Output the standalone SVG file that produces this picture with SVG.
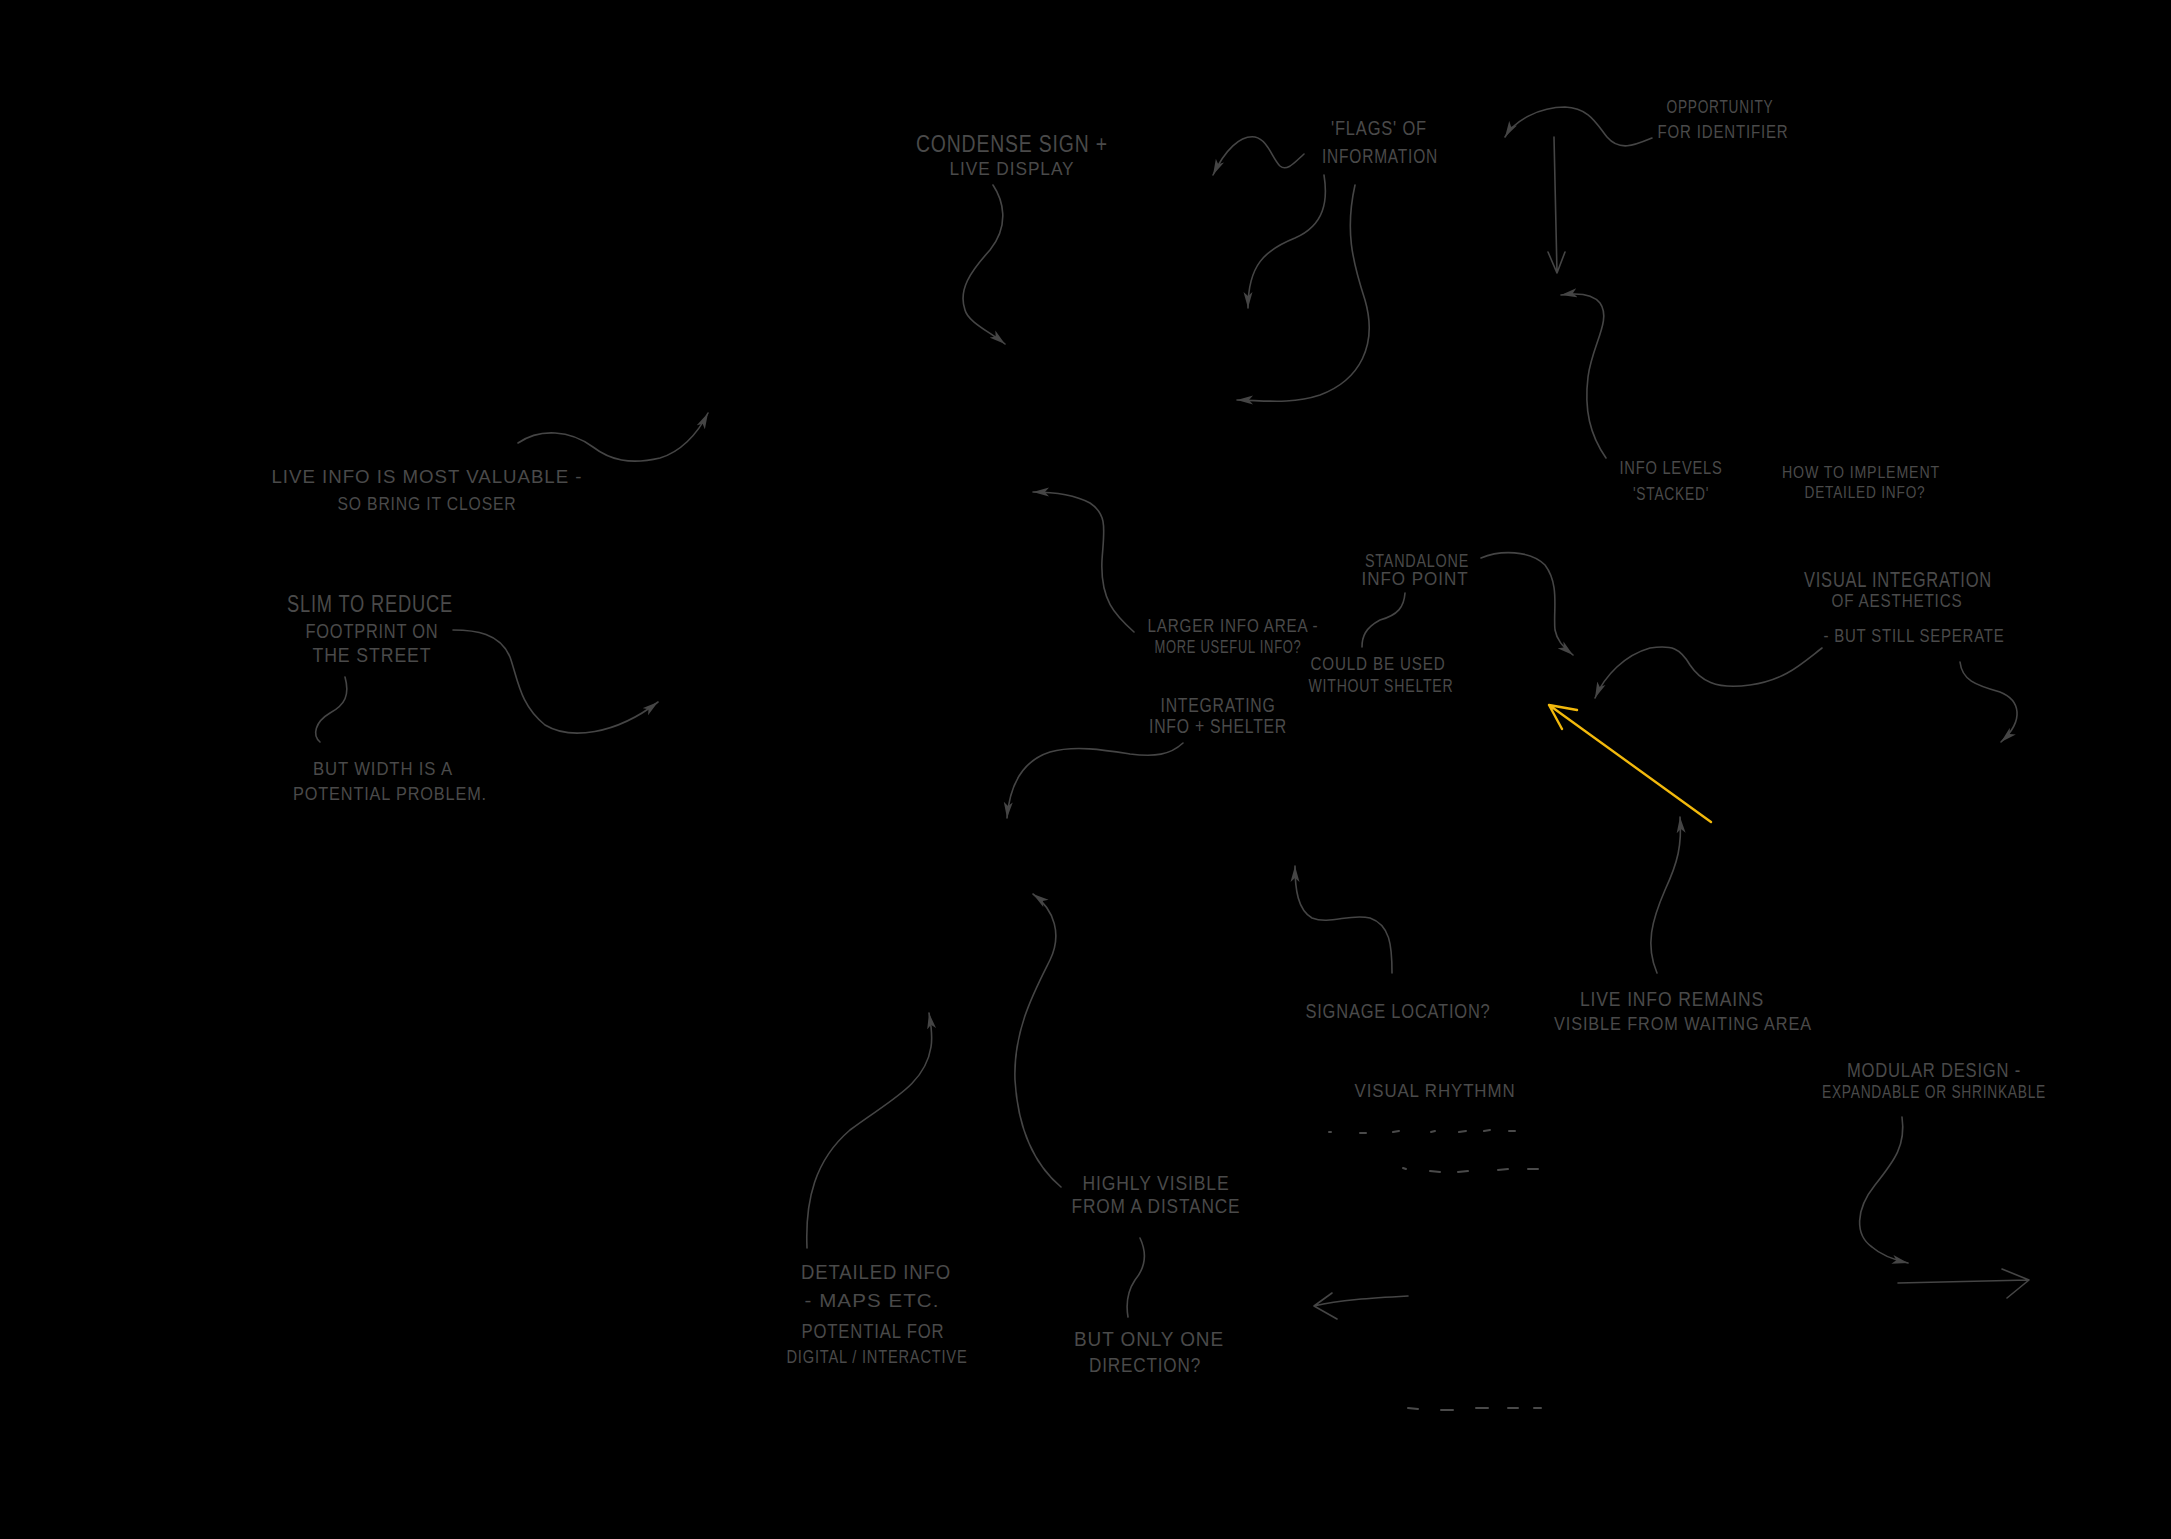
<svg xmlns="http://www.w3.org/2000/svg" width="2171" height="1539" viewBox="0 0 2171 1539">
<style>
.t{font-family:"Liberation Sans","DejaVu Sans",sans-serif;fill:#4a4a4a;text-anchor:middle;letter-spacing:1px}
.c{fill:none;stroke:#454545;stroke-width:1.6;stroke-linecap:round;stroke-linejoin:round}
.ca{fill:none;stroke:#454545;stroke-width:1.6;stroke-linecap:round;marker-end:url(#ah)}
.d{stroke:#4a4a4a;stroke-width:2;stroke-linecap:round}
.y{fill:none;stroke:#f2b90c;stroke-width:2.4;stroke-linecap:round;stroke-linejoin:round}
</style>
<defs>
<marker id="ah" markerUnits="userSpaceOnUse" markerWidth="18" markerHeight="10" refX="16" refY="5" orient="auto" viewBox="0 0 18 10">
<path d="M0,0.5 L16,5 L0,9.5 L4,5 z" fill="#454545"/>
</marker>
</defs>
<rect x="0" y="0" width="2171" height="1539" fill="#000"/>

<g id="connectors">
<path class="ca" d="M993,185 C1003,200 1010,225 990,250 C970,272 958,290 965,310 C968,322 990,332 1005,344"/>
<path class="ca" d="M1304,154 C1295,162 1287,172 1280,166 C1272,158 1268,140 1255,137 C1240,135 1225,150 1213,175"/>
<path class="ca" d="M1324,175 C1328,200 1325,225 1295,238 C1265,250 1248,265 1248,308"/>
<path class="ca" d="M1355,185 C1345,230 1352,260 1365,300 C1378,345 1360,380 1320,395 C1290,405 1260,400 1237,400"/>
<path class="ca" d="M1652,138 C1635,145 1620,152 1607,137 C1597,125 1590,108 1565,107 C1540,107 1515,120 1505,137"/>
<path class="c" d="M1554,137 L1557,273 M1548,252 L1557,273 L1565,252"/>
<path class="ca" d="M1606,458 C1590,435 1584,410 1588,377 C1592,345 1612,320 1600,303 C1592,293 1575,293 1561,295"/>
<path class="ca" d="M518,443 C540,428 570,430 593,447 C610,460 630,465 660,458 C680,452 697,435 708,413"/>
<path class="ca" d="M453,630 C475,630 500,633 510,657 C518,680 520,705 545,725 C570,740 615,735 658,702"/>
<path class="c" d="M345,677 C350,695 345,705 330,713 C315,722 312,735 320,742"/>
<path class="ca" d="M1134,632 C1115,615 1100,600 1102,560 C1104,530 1108,515 1090,503 C1075,495 1055,492 1033,492"/>
<path class="c" d="M1405,593 C1404,607 1398,615 1380,620 C1365,628 1362,637 1362,647"/>
<path class="ca" d="M1481,558 C1500,550 1530,550 1545,565 C1560,585 1553,610 1555,630 C1557,640 1562,646 1573,655"/>
<path class="ca" d="M1822,648 C1800,665 1785,680 1750,685 C1715,690 1700,680 1690,665 C1680,648 1672,645 1650,648 C1625,655 1605,675 1595,698"/>
<path class="ca" d="M1960,662 C1962,680 1975,685 2000,692 C2020,700 2025,720 2001,742"/>
<path class="ca" d="M1183,743 C1170,755 1155,757 1130,754 C1105,750 1075,745 1050,752 C1025,760 1010,780 1007,818"/>
<path class="y" d="M1711,822 L1549,705 M1577,710 L1549,705 L1562,729"/>
<path class="ca" d="M1392,973 C1392,945 1390,925 1370,918 C1350,913 1330,925 1312,918 C1298,910 1295,890 1295,866"/>
<path class="ca" d="M1657,973 C1645,945 1652,920 1665,890 C1678,862 1682,845 1680,817"/>
<path class="ca" d="M1061,1187 C1035,1165 1018,1130 1015,1080 C1013,1030 1035,990 1050,960 C1062,935 1055,910 1033,894"/>
<path class="ca" d="M807,1248 C805,1200 815,1160 850,1130 C890,1100 925,1085 931,1047 C933,1035 931,1025 929,1013"/>
<path class="c" d="M1140,1238 C1148,1255 1145,1268 1135,1280 C1127,1292 1126,1305 1128,1317"/>
<path class="c" d="M1408,1296 C1370,1298 1340,1300 1314,1306 M1332,1293 L1314,1306 L1337,1319"/>
<path class="ca" d="M1902,1117 C1906,1145 1895,1160 1875,1185 C1855,1210 1855,1235 1872,1247 C1882,1256 1895,1260 1908,1263"/>
<path class="c" d="M1898,1283 L2029,1280 M2002,1269 L2029,1280 L2007,1298"/>
</g>

<g id="rhythm-dashes">
<line class="d" x1="1329" y1="1132" x2="1331" y2="1132"/>
<line class="d" x1="1360" y1="1133" x2="1366" y2="1133"/>
<line class="d" x1="1393" y1="1132" x2="1399" y2="1131"/>
<line class="d" x1="1431" y1="1132" x2="1435" y2="1131"/>
<line class="d" x1="1459" y1="1132" x2="1466" y2="1131"/>
<line class="d" x1="1484" y1="1131" x2="1490" y2="1130"/>
<line class="d" x1="1509" y1="1131" x2="1515" y2="1131"/>
<line class="d" x1="1403" y1="1168" x2="1406" y2="1169"/>
<line class="d" x1="1430" y1="1171" x2="1440" y2="1172"/>
<line class="d" x1="1458" y1="1172" x2="1468" y2="1171"/>
<line class="d" x1="1498" y1="1170" x2="1508" y2="1169"/>
<line class="d" x1="1528" y1="1169" x2="1538" y2="1169"/>
<line class="d" x1="1408" y1="1408" x2="1418" y2="1409"/>
<line class="d" x1="1441" y1="1410" x2="1453" y2="1410"/>
<line class="d" x1="1476" y1="1408" x2="1488" y2="1408"/>
<line class="d" x1="1508" y1="1408" x2="1518" y2="1408"/>
<line class="d" x1="1534" y1="1408" x2="1541" y2="1408"/>
</g>

<g id="condense"><text class="t" font-size="23" x="1012" y="152" textLength="192" lengthAdjust="spacingAndGlyphs">CONDENSE  SIGN +</text><text class="t" font-size="19" x="1012" y="175" textLength="125" lengthAdjust="spacingAndGlyphs">LIVE DISPLAY</text></g>
<g id="flags"><text class="t" font-size="20" x="1379" y="135" textLength="96" lengthAdjust="spacingAndGlyphs">'FLAGS'  OF</text><text class="t" font-size="20" x="1380" y="163" textLength="116" lengthAdjust="spacingAndGlyphs">INFORMATION</text></g>
<g id="opportunity"><text class="t" font-size="18" x="1720" y="113" textLength="107" lengthAdjust="spacingAndGlyphs">OPPORTUNITY</text><text class="t" font-size="18" x="1723" y="138" textLength="131" lengthAdjust="spacingAndGlyphs">FOR  IDENTIFIER</text></g>
<g id="live-info"><text class="t" font-size="19" x="427" y="483" textLength="311" lengthAdjust="spacingAndGlyphs">LIVE INFO IS MOST VALUABLE  -</text><text class="t" font-size="19" x="427" y="510" textLength="179" lengthAdjust="spacingAndGlyphs">SO BRING IT CLOSER</text></g>
<g id="slim"><text class="t" font-size="23" x="370" y="612" textLength="166" lengthAdjust="spacingAndGlyphs">SLIM TO REDUCE</text><text class="t" font-size="21" x="372" y="638" textLength="133" lengthAdjust="spacingAndGlyphs">FOOTPRINT ON</text><text class="t" font-size="20" x="372" y="662" textLength="119" lengthAdjust="spacingAndGlyphs">THE  STREET</text></g>
<g id="width"><text class="t" font-size="19" x="383" y="775" textLength="140" lengthAdjust="spacingAndGlyphs">BUT WIDTH IS A</text><text class="t" font-size="19" x="390" y="800" textLength="194" lengthAdjust="spacingAndGlyphs">POTENTIAL  PROBLEM.</text></g>
<g id="info-levels"><text class="t" font-size="19" x="1671" y="474" textLength="103" lengthAdjust="spacingAndGlyphs">INFO LEVELS</text><text class="t" font-size="19" x="1671" y="500" textLength="76" lengthAdjust="spacingAndGlyphs">'STACKED'</text></g>
<g id="how-to"><text class="t" font-size="17" x="1861" y="478" textLength="158" lengthAdjust="spacingAndGlyphs">HOW TO IMPLEMENT</text><text class="t" font-size="17" x="1865" y="498" textLength="121" lengthAdjust="spacingAndGlyphs">DETAILED INFO?</text></g>
<g id="standalone"><text class="t" font-size="19" x="1417" y="567" textLength="104" lengthAdjust="spacingAndGlyphs">STANDALONE</text><text class="t" font-size="18" x="1415" y="585" textLength="107" lengthAdjust="spacingAndGlyphs">INFO  POINT</text></g>
<g id="visual-integration"><text class="t" font-size="22" x="1898" y="587" textLength="188" lengthAdjust="spacingAndGlyphs">VISUAL INTEGRATION</text><text class="t" font-size="19" x="1897" y="607" textLength="131" lengthAdjust="spacingAndGlyphs">OF AESTHETICS</text><text class="t" font-size="19" x="1914" y="642" textLength="181" lengthAdjust="spacingAndGlyphs">- BUT  STILL SEPERATE</text></g>
<g id="larger-info"><text class="t" font-size="19" x="1233" y="632" textLength="171" lengthAdjust="spacingAndGlyphs">LARGER INFO AREA -</text><text class="t" font-size="18" x="1228" y="653" textLength="147" lengthAdjust="spacingAndGlyphs">MORE USEFUL INFO?</text></g>
<g id="could-be-used"><text class="t" font-size="18" x="1378" y="670" textLength="135" lengthAdjust="spacingAndGlyphs">COULD BE USED</text><text class="t" font-size="18" x="1381" y="692" textLength="145" lengthAdjust="spacingAndGlyphs">WITHOUT SHELTER</text></g>
<g id="integrating"><text class="t" font-size="21" x="1218" y="712" textLength="115" lengthAdjust="spacingAndGlyphs">INTEGRATING</text><text class="t" font-size="21" x="1218" y="733" textLength="138" lengthAdjust="spacingAndGlyphs">INFO + SHELTER</text></g>
<g id="signage"><text class="t" font-size="21" x="1398" y="1018" textLength="185" lengthAdjust="spacingAndGlyphs">SIGNAGE LOCATION?</text></g>
<g id="live-remains"><text class="t" font-size="21" x="1672" y="1006" textLength="184" lengthAdjust="spacingAndGlyphs">LIVE  INFO  REMAINS</text><text class="t" font-size="18" x="1683" y="1030" textLength="258" lengthAdjust="spacingAndGlyphs">VISIBLE  FROM WAITING AREA</text></g>
<g id="rhythm"><text class="t" font-size="19" x="1435" y="1097" textLength="161" lengthAdjust="spacingAndGlyphs">VISUAL  RHYTHMN</text></g>
<g id="modular"><text class="t" font-size="21" x="1934" y="1077" textLength="174" lengthAdjust="spacingAndGlyphs">MODULAR DESIGN -</text><text class="t" font-size="19" x="1934" y="1098" textLength="224" lengthAdjust="spacingAndGlyphs">EXPANDABLE OR SHRINKABLE</text></g>
<g id="highly-visible"><text class="t" font-size="20" x="1156" y="1190" textLength="147" lengthAdjust="spacingAndGlyphs">HIGHLY VISIBLE</text><text class="t" font-size="20" x="1156" y="1213" textLength="169" lengthAdjust="spacingAndGlyphs">FROM  A  DISTANCE</text></g>
<g id="one-direction"><text class="t" font-size="21" x="1149" y="1346" textLength="150" lengthAdjust="spacingAndGlyphs">BUT ONLY ONE</text><text class="t" font-size="21" x="1145" y="1372" textLength="112" lengthAdjust="spacingAndGlyphs">DIRECTION?</text></g>
<g id="detailed-info"><text class="t" font-size="21" x="876" y="1279" textLength="150" lengthAdjust="spacingAndGlyphs">DETAILED INFO</text><text class="t" font-size="19" x="872" y="1307" textLength="135" lengthAdjust="spacingAndGlyphs">- MAPS  ETC.</text><text class="t" font-size="20" x="873" y="1338" textLength="143" lengthAdjust="spacingAndGlyphs">POTENTIAL  FOR</text><text class="t" font-size="19" x="877" y="1363" textLength="181" lengthAdjust="spacingAndGlyphs">DIGITAL / INTERACTIVE</text></g>
</svg>
